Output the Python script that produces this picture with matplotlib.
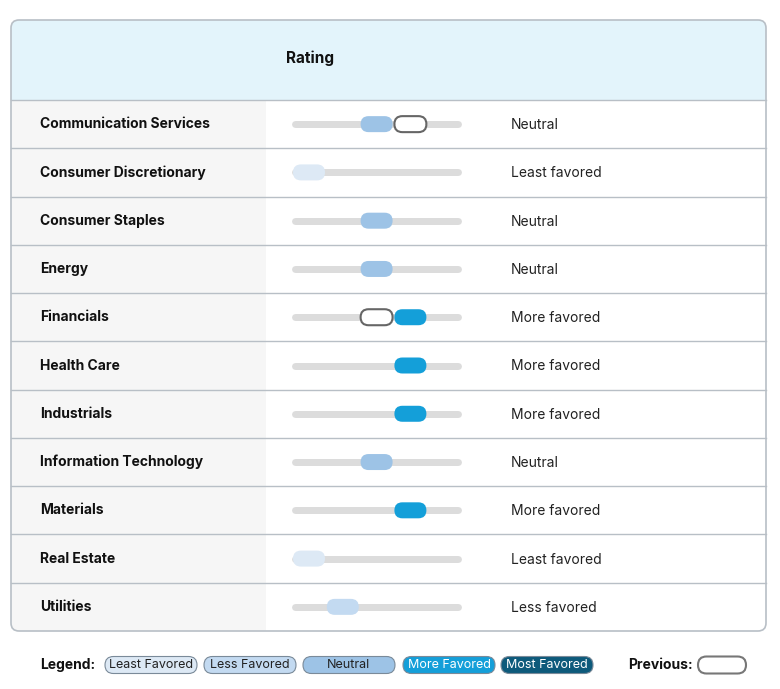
import matplotlib.pyplot as plt
from matplotlib.patches import FancyBboxPatch, Rectangle

plt.rcParams['font.family'] = ['Inter', 'DejaVu Sans']

sectors = ['Communication Services', 'Consumer Discretionary', 'Consumer Staples',
           'Energy', 'Financials', 'Health Care', 'Industrials',
           'Information Technology', 'Materials', 'Real Estate', 'Utilities']
ratings = [3, 1, 3, 3, 4, 4, 4, 3, 4, 1, 2]
previous = [4, None, None, None, 3, None, None, None, None, None, None]
labels = ['Neutral', 'Least favored', 'Neutral', 'Neutral', 'More favored', 'More favored',
          'More favored', 'Neutral', 'More favored', 'Least favored', 'Less favored']
legend_names = ['Least Favored', 'Less Favored', 'Neutral', 'More Favored', 'Most Favored']
colors = ['#dde9f5', '#c3daf1', '#9dc3e6', '#149fd9', '#0d5a7b']

W, H = 780, 689
fig = plt.figure(figsize=(W / 100, H / 100), dpi=100)
ax = fig.add_axes([0, 0, 1, 1])
ax.set_xlim(0, W)
ax.set_ylim(H, 0)
ax.axis('off')

left, right, top, head_bot, bottom = 11, 766, 20, 100, 631
row_h = (bottom - head_bot) / len(sectors)


def pos(r):
    return 309 + (r - 1) * 33.8


def pill(x, y, w, h, fc, ec='none', lw=1.5, z=3):
    ax.add_patch(FancyBboxPatch((x - w / 2 + h / 2, y), w - h, 0,
                                boxstyle=f'round,pad={h / 2}', fc=fc, ec=ec, lw=lw, zorder=z))


# outer box, header and left column (clipped to the rounded box)
box = FancyBboxPatch((left, top), right - left, bottom - top, boxstyle='round,pad=0,rounding_size=8',
                     fc='none', ec='#b8bfc6', lw=1.2, zorder=5)
ax.add_patch(box)
head = Rectangle((left, top), right - left, head_bot - top, fc='#e3f4fb', ec='none', zorder=1)
col = Rectangle((left, head_bot), 266 - left, bottom - head_bot, fc='#f6f6f6', ec='none', zorder=1)
for p in (head, col):
    ax.add_patch(p)
    p.set_clip_path(box)
ax.text(286, 58, 'Rating', fontsize=11, fontweight='bold', va='center', color='#111')

for i, (s, r, p, lab) in enumerate(zip(sectors, ratings, previous, labels)):
    y0 = head_bot + i * row_h
    yc = y0 + row_h / 2
    ax.plot([left, right], [y0, y0], color='#b8bfc6', lw=1, zorder=2)
    ax.text(40, yc, s, fontsize=10, fontweight='bold', va='center', color='#111')
    ax.plot([pos(1) - 14, pos(5) + 14], [yc, yc], color='#dcdcdc', lw=5,
            solid_capstyle='round', zorder=2)
    pill(pos(r), yc, 32, 16, colors[r - 1])
    if p is not None:
        pill(pos(p), yc, 32, 16, 'white', ec='#666666')
    ax.text(511, yc + 1, lab, fontsize=10, va='center', color='#222')

# legend
ly = 665
ax.text(40, ly, 'Legend:', fontsize=10, fontweight='bold', va='center', color='#111')
lx = [151, 250, 349, 449, 547]
for x, name, c in zip(lx, legend_names, colors):
    pill(x, ly, 92, 17, c, ec='#7a8a99', lw=0.8)
    ax.text(x, ly, name, fontsize=9, va='center', ha='center',
            color='white' if c in colors[3:] else '#222')
ax.text(628, ly, 'Previous:', fontsize=10, fontweight='bold', va='center', color='#111')
pill(722, ly, 48, 17, 'white', ec='#777777', lw=1.5)

fig.savefig('out.png', dpi=100)
